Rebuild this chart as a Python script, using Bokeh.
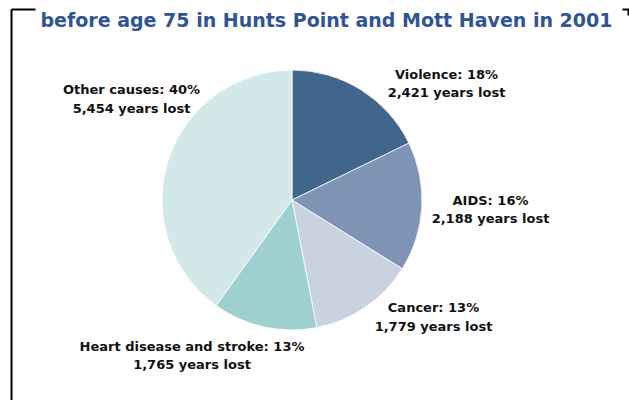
import math
from bokeh.plotting import figure
from bokeh.models import ColumnDataSource, Range1d
from bokeh.core.properties import value
from bokeh.embed import file_html
from bokeh.resources import INLINE

# ---- data ----
causes = ["Violence", "AIDS", "Cancer", "Heart disease and stroke", "Other causes"]
years_lost = [2421, 2188, 1779, 1765, 5454]
pct_labels = ["18%", "16%", "13%", "13%", "40%"]
colors = ["#41668B", "#7F94B4", "#C9D3E0", "#9FD0D1", "#D3E8E9"]
title_text = "before age 75 in Hunts Point and Mott Haven in 2001"

W, H = 629, 400
FONT = "DejaVu Sans"

p = figure(width=W, height=H, output_backend="svg", toolbar_location=None,
           x_range=Range1d(0, W), y_range=Range1d(0, H), min_border=0,
           outline_line_color=None, background_fill_color="white")
p.axis.visible = False
p.grid.visible = False

def px(x):
    return x

def py(y):
    return H - y

# pie
cx, cy, r = px(291.5), py(199.5), 130
total = sum(years_lost)
starts, ends = [], []
cum = 0.0
for v in years_lost:
    a0 = math.pi / 2 - 2 * math.pi * cum / total
    cum += v
    a1 = math.pi / 2 - 2 * math.pi * cum / total
    starts.append(a1)
    ends.append(a0)

src = ColumnDataSource(dict(start=starts, end=ends, color=colors, cause=causes))
p.wedge(x=cx, y=cy, radius=r, start_angle="start", end_angle="end",
        fill_color="color", line_color="white", line_width=0.8, source=src)

# labels (line1 center, line2 center) in page coords
label_pos = [
    (446, 74, 92),
    (490, 200, 218),
    (433, 307, 326),
    (191.5, 346, 364),
    (131, 89, 108),
]
l1x, l1y, l2x, l2y, t1, t2 = [], [], [], [], [], []
for (x, y1, y2), c, pc, v in zip(label_pos, causes, pct_labels, years_lost):
    l1x.append(px(x)); l1y.append(py(y1)); t1.append(f"{c}: {pc}")
    l2x.append(px(x)); l2y.append(py(y2)); t2.append(f"{v:,} years lost")

for xs, ys, ts in ((l1x, l1y, t1), (l2x, l2y, t2)):
    p.text(x=xs, y=ys, text=ts, text_align="center", text_baseline="middle",
           text_font=value(FONT), text_font_style="bold", text_font_size="13px",
           text_color="#111111")

# title
p.text(x=[px(326)], y=[py(19)], text=[title_text], text_align="center",
       text_baseline="middle", text_font=value(FONT), text_font_style="bold",
       text_font_size="19px", text_color="#2F5496")

# frame
p.segment(x0=[px(11), px(11), px(622), px(628)], y0=[py(9), py(9), py(9), py(9)],
          x1=[px(11), px(35), px(629), px(628)], y1=[py(400), py(9), py(9), py(15)],
          line_color="black", line_width=2)

open("out.html", "w").write(file_html(p, INLINE))
